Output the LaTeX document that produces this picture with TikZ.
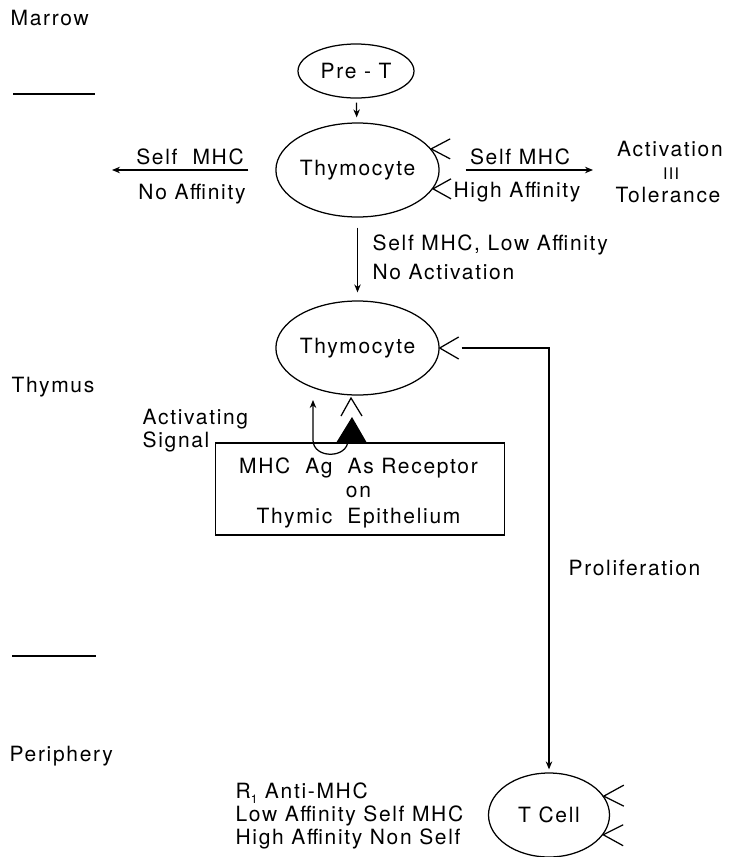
\documentclass[tikz,border=0pt]{standalone}
\usepackage{fontspec}
\setmainfont{TeX Gyre Heros}[LetterSpace=8]
\usetikzlibrary{arrows.meta,calc,shapes.geometric}
\begin{document}
\begin{tikzpicture}[x=1pt,y=-1pt,
  line width=1.25pt,
  font=\fontsize{21}{23}\selectfont,
  txt/.style={inner sep=0pt,anchor=base west},
  ctxt/.style={inner sep=0pt,anchor=base},
  cell/.style={draw,ellipse,inner sep=0pt},
  arr/.style={-{Stealth[length=8pt,width=6.5pt]}},
  rec/.style={line width=1.25pt}]
\useasboundingbox (0,0) rectangle (733,857);

% region labels
\node[txt] (marrow) at (10,25) {Marrow};
\node[txt] (thymus) at (11,392) {Thymus};
\node[txt] (periph) at (9,761) {Periphery};
\coordinate (l1a) at (13,94); \coordinate (l1b) at (95,94);
\coordinate (l2a) at (12,656); \coordinate (l2b) at (96,656);
\draw (l1a) -- (l1b);
\draw (l2a) -- (l2b);

% cells
\node[cell,minimum width=116pt,minimum height=54pt] (pret) at (356,71) {Pre - T};
\node[cell,minimum width=140pt,minimum height=94pt] (thy1) at (357.5,170) {Thymocyte};
\node[cell,minimum width=140pt,minimum height=94pt] (thy2) at (357.5,348) {Thymocyte};
\node[cell,minimum width=121pt,minimum height=84pt] (tcell) at (549,815) {T Cell};

% receptors on thymocyte 1
\draw[rec] ($(thy1.16)+(19,-10)$) -- (thy1.16) -- ($(thy1.16)+(19,10)$);
\draw[rec] ($(thy1.-14)+(18,-10)$) -- (thy1.-14) -- ($(thy1.-14)+(18,10)$);
% receptor on thymocyte 2
\draw[rec] ($(thy2.0)+(19,-11)$) -- (thy2.0) -- ($(thy2.0)+(19,11)$);
% receptors on T cell
\draw[rec] ($(tcell.19)+(20,-11)$) -- (tcell.19) -- ($(tcell.19)+(20,10)$);
\draw[rec] ($(tcell.-20)+(20,-10)$) -- (tcell.-20) -- ($(tcell.-20)+(20,11)$);

% Pre-T to thymocyte
\draw[arr,shorten <=4pt,shorten >=5pt] (pret) -- (thy1);

% left branch
\coordinate (tipL) at (112,170);
\draw[arr] ([xshift=-27pt]thy1.west) -- (tipL);
\node[ctxt] (lsm) at (190,164) {Self\ \ MHC};
\node[ctxt] (lna) at (192,199) {No Affinity};

% right branch
\coordinate (tipR) at (593,170);
\draw[arr] ([xshift=26pt]thy1.east) -- (tipR);
\node[ctxt] (rsm) at (520,164) {Self MHC};
\node[ctxt] (rha) at (517,197) {High Affinity};
\node[ctxt] (act) at (670,156) {Activation};
\node[ctxt,font=\fontsize{16}{18}\selectfont] (iii) at (671,179) {III};
\node[ctxt] (tol) at (668,202) {Tolerance};

% down branch
\draw[arr,shorten <=10pt,shorten >=8pt] (thy1) -- (thy2);
\node[txt] (smla) at (372,250) {Self MHC, Low Affinity};
\node[txt] (noact) at (372,279) {No Activation};

% thymic epithelium box
\node[draw,inner sep=0pt,minimum width=289pt,minimum height=92pt] (mhc) at (360,489) {};
\node[ctxt] (b1) at (358.5,473) {MHC\ \ Ag\ \ As Receptor};
\node[ctxt] (b2) at (358.5,497) {on};
\node[ctxt] (b3) at (358.5,523) {Thymic\ \ Epithelium};

% MHC antigen (filled triangle) and receptor on thymocyte 2
\coordinate (triL) at (336,443);
\coordinate (triR) at (367,443);
\coordinate (triT) at (352,417);
\fill (triL) -- (triT) -- (triR) -- cycle;
\coordinate (chT) at (351,398);
\draw[rec] (341,416) -- (chT) -- (362,416);

% activating signal
\coordinate (sigtip) at (313,400);
\draw[arr] (348,440) .. controls (348,459) and (313,459) .. (313,440) -- (sigtip);
\node[txt] (actv) at (142,424) {Activating};
\node[txt] (sig) at (142,447) {Signal};

% proliferation
\draw[arr] ([xshift=22pt]thy2.east) -| ([yshift=3pt]tcell.north);
\node[txt] (prolif) at (568,575) {Proliferation};

% T cell labels
\node[txt] (r1) at (235,798) {R\raisebox{-0.25em}{\fontsize{12}{12}\selectfont 1} Anti-MHC};
\node[txt] (r2) at (235,821) {Low Affinity Self MHC};
\node[txt] (r3) at (235,844) {High Affinity Non Self};
\end{tikzpicture}
\end{document}
